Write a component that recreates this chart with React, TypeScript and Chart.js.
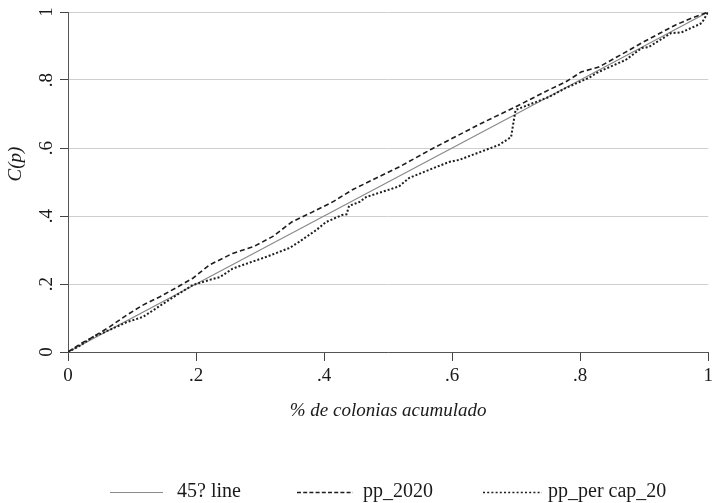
import React, { useEffect, useRef } from "react";
import { Chart, registerables } from "chart.js";

Chart.register(...registerables);

// ---- data ----
const seriesNames = ["45? line", "pp_2020", "pp_per cap_20"];

const lineX = [0, 0.25, 0.5, 0.75, 1];
const lineY = [0, 0.25, 0.5, 0.75, 1];

const pp2020X = [0, 0.02, 0.039, 0.065, 0.092, 0.117, 0.143, 0.17, 0.195, 0.221, 0.257, 0.29, 0.32, 0.35, 0.38, 0.413, 0.445, 0.517, 0.569, 0.646, 0.699, 0.751, 0.777, 0.802, 0.829, 0.871, 0.896, 0.949, 0.974, 1];
const pp2020Y = [0, 0.025, 0.044, 0.074, 0.109, 0.138, 0.162, 0.19, 0.217, 0.256, 0.29, 0.31, 0.34, 0.383, 0.41, 0.441, 0.478, 0.544, 0.598, 0.673, 0.721, 0.771, 0.794, 0.824, 0.838, 0.882, 0.909, 0.962, 0.982, 1];

const ppCapX = [0, 0.02, 0.039, 0.065, 0.092, 0.117, 0.143, 0.17, 0.195, 0.221, 0.237, 0.257, 0.273, 0.31, 0.346, 0.361, 0.388, 0.403, 0.428, 0.435, 0.439, 0.455, 0.466, 0.517, 0.533, 0.595, 0.611, 0.673, 0.692, 0.699, 0.751, 0.777, 0.813, 0.829, 0.871, 0.896, 0.907, 0.942, 0.958, 0.984, 0.99, 1];
const ppCapY = [0, 0.02, 0.044, 0.065, 0.088, 0.103, 0.135, 0.168, 0.197, 0.212, 0.22, 0.245, 0.256, 0.28, 0.306, 0.324, 0.359, 0.382, 0.403, 0.405, 0.43, 0.441, 0.456, 0.487, 0.512, 0.559, 0.565, 0.609, 0.632, 0.712, 0.75, 0.776, 0.806, 0.824, 0.859, 0.894, 0.897, 0.938, 0.94, 0.962, 0.968, 1];

const tickValues = [0, 0.2, 0.4, 0.6, 0.8, 1];
const tickLabels = ["0", ".2", ".4", ".6", ".8", "1"];
const xTitle = "% de colonias acumulado";
const yTitle = "C(p)";

const FONT = '"Liberation Serif", "DejaVu Serif", serif';
const TEXT = "#1a1a1a";

const pts = (xs: number[], ys: number[]) => xs.map((x, i) => ({ x, y: ys[i] }));
const labelFor = (v: number) => {
  const i = tickValues.findIndex((t) => Math.abs(t - v) < 1e-6);
  return i >= 0 ? tickLabels[i] : "";
};

const styles = [
  { color: "#8a8a8a", width: 1.2, dash: [] as number[] },
  { color: "#1e1e1e", width: 1.6, dash: [5, 3] },
  { color: "#1e1e1e", width: 2, dash: [2, 2] },
];

const textPlugin = {
  id: "textPlugin",
  afterDraw(chart: any) {
    const { ctx, chartArea, scales } = chart;
    const y = scales.y;
    ctx.save();
    ctx.fillStyle = TEXT;
    ctx.font = `19px ${FONT}`;
    ctx.textAlign = "center";
    ctx.textBaseline = "middle";
    tickValues.forEach((v, i) => {
      const py = y.getPixelForValue(v);
      ctx.save();
      ctx.translate(47, py);
      ctx.rotate(-Math.PI / 2);
      ctx.fillText(tickLabels[i], 0, 0);
      ctx.restore();
    });
    // y title
    ctx.font = `italic 19px ${FONT}`;
    ctx.save();
    ctx.translate(16, 164);
    ctx.rotate(-Math.PI / 2);
    ctx.fillText(yTitle, 0, 0);
    ctx.restore();
    // x title
    ctx.fillText(xTitle, (chartArea.left + chartArea.right) / 2, 411);

    // legend
    const lineStarts = [110, 297, 483];
    const lineEnds = [163, 353, 542];
    const textStarts = [177, 363, 548];
    const legendDash = [[], [4, 2.2], [2, 2.2]];
    const ly = 492;
    ctx.font = `20px ${FONT}`;
    ctx.textAlign = "left";
    seriesNames.forEach((name, i) => {
      ctx.save();
      ctx.strokeStyle = styles[i].color;
      ctx.lineWidth = i === 0 ? 1 : 1.5;
      ctx.setLineDash(legendDash[i]);
      ctx.beginPath();
      ctx.moveTo(lineStarts[i], ly + 0.5);
      ctx.lineTo(lineEnds[i], ly + 0.5);
      ctx.stroke();
      ctx.restore();
      ctx.fillText(name, textStarts[i], ly);
    });
    ctx.restore();
  },
};

export default function App() {
  const ref = useRef<HTMLCanvasElement | null>(null);
  useEffect(() => {
    if (!ref.current) return;
    const data = [pts(lineX, lineY), pts(pp2020X, pp2020Y), pts(ppCapX, ppCapY)];
    const chart = new Chart(ref.current, {
      type: "line",
      data: {
        datasets: seriesNames.map((name, i) => ({
          label: name,
          data: data[i],
          borderColor: styles[i].color,
          borderWidth: styles[i].width,
          borderDash: styles[i].dash,
          pointRadius: 0,
          fill: false,
          tension: 0,
          order: 2 - i,
        })),
      },
      options: {
        animation: false,
        responsive: false,
        devicePixelRatio: 1,
        layout: { padding: { top: 12, right: 7, left: 0, bottom: 0 } },
        plugins: { legend: { display: false }, tooltip: { enabled: false } },
        scales: {
          x: {
            type: "linear",
            min: 0,
            max: 1,
            afterBuildTicks: (s: any) => {
              s.ticks = tickValues.map((v) => ({ value: v }));
            },
            afterFit: (s: any) => {
              s.height = 151;
            },
            ticks: {
              callback: (v: any) => labelFor(Number(v)),
              font: { family: FONT, size: 19 },
              color: TEXT,
              padding: 4,
              maxRotation: 0,
              autoSkip: false,
            },
            grid: { drawOnChartArea: false, drawTicks: true, tickLength: 9, tickColor: "#444", lineWidth: 1 },
            border: { color: "#555", width: 1 },
          },
          y: {
            type: "linear",
            min: 0,
            max: 1,
            afterBuildTicks: (s: any) => {
              s.ticks = tickValues.map((v) => ({ value: v }));
            },
            afterFit: (s: any) => {
              s.width = 68;
            },
            ticks: { display: false },
            grid: { color: "#cfcfcf", tickColor: "#444", tickLength: 8, lineWidth: 1 },
            border: { color: "#555", width: 1 },
          },
        },
      },
      plugins: [textPlugin],
    } as any);
    return () => chart.destroy();
  }, []);
  return (
    <div style={{ position: "fixed", left: 0, top: 0, width: 717, height: 503, background: "#fff" }}>
      <canvas ref={ref} width={717} height={503} style={{ width: 717, height: 503, display: "block" }} />
    </div>
  );
}
